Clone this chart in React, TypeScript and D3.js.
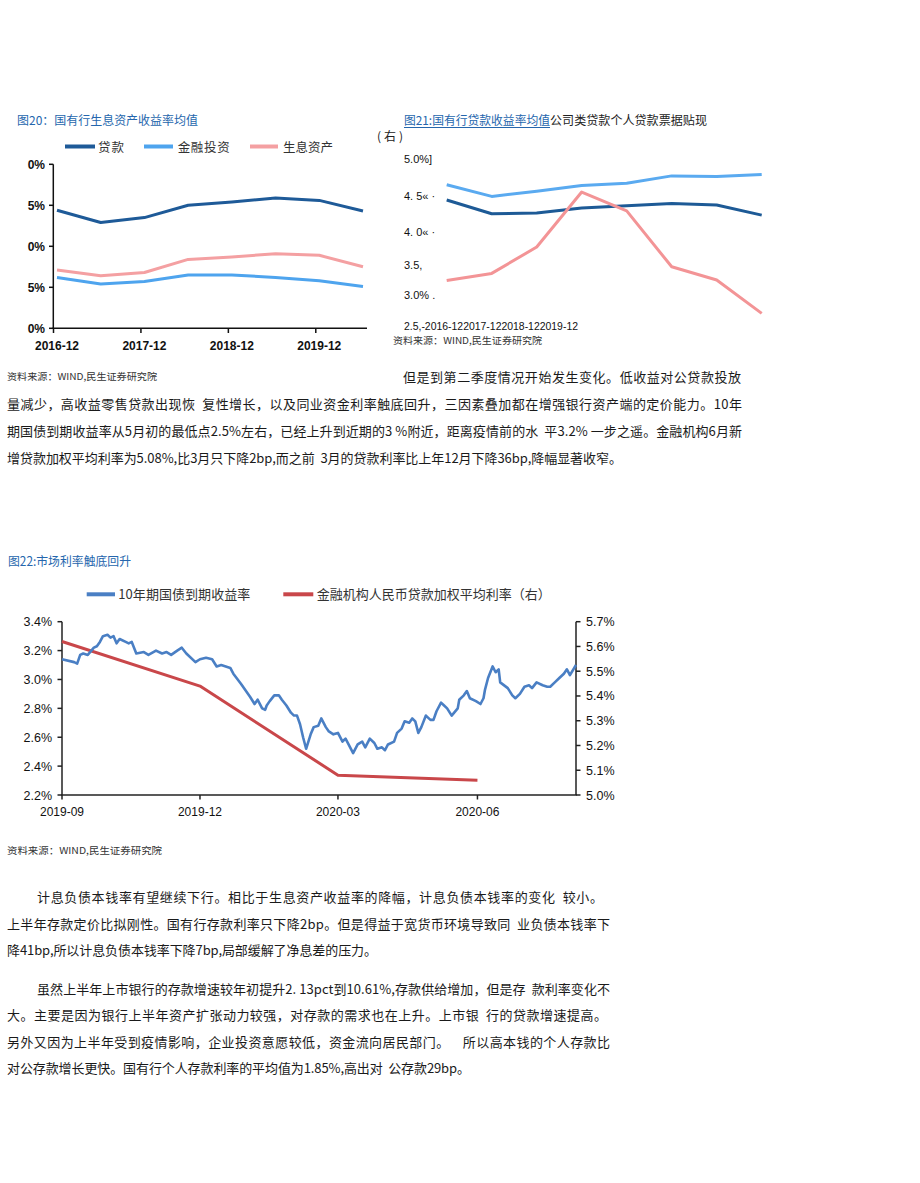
import React from "react";
import * as d3 from "d3";

// ---------- Chart 20 data ----------
const cats20 = ["2016-12", "2017-06", "2017-12", "2018-06", "2018-12", "2019-06", "2019-12", "2020-06"];
const loans20 = [4.44, 4.29, 4.35, 4.5, 4.54, 4.59, 4.56, 4.43];
const invest20 = [3.62, 3.54, 3.57, 3.65, 3.65, 3.62, 3.58, 3.51];
const assets20 = [3.71, 3.64, 3.68, 3.84, 3.87, 3.91, 3.89, 3.75];
const yTicks20 = [5.0, 4.5, 4.0, 3.5, 3.0];
const yTickLabels20 = ["0%", "5%", "0%", "5%", "0%"];
const xTickCats20 = ["2016-12", "2017-12", "2018-12", "2019-12"];
const legend20 = ["贷款", "金融投资", "生息资产"];

// ---------- Chart 21 data ----------
const cats21 = ["2016-12", "2017-06", "2017-12", "2018-06", "2018-12", "2019-06", "2019-12", "2020-06"];
const corp21 = [4.44, 4.25, 4.26, 4.33, 4.36, 4.39, 4.37, 4.23];
const personal21 = [4.65, 4.49, 4.56, 4.64, 4.67, 4.77, 4.76, 4.79];
const bill21 = [3.24, 3.36, 3.77, 4.55, 4.29, 3.47, 3.25, 2.7];
const yTicks21 = [5.0, 4.5, 4.0, 3.5, 3.0, 2.5];
const yTickLabels21 = ["5.0%]", "4. 5« ·", "4. 0« ·", "3.5,", "3.0% .", "2.5,-2016-122017-122018-122019-12"];

// ---------- Chart 22 data ----------
const bond10y: [string, number][] = [
  ["2019-09-01", 3.14], ["2019-09-09", 3.12], ["2019-09-11", 3.11], ["2019-09-13", 3.17], ["2019-09-15", 3.18],
  ["2019-09-18", 3.17], ["2019-09-22", 3.22], ["2019-09-24", 3.23], ["2019-09-26", 3.26], ["2019-09-28", 3.3],
  ["2019-10-01", 3.31], ["2019-10-03", 3.29], ["2019-10-05", 3.3], ["2019-10-07", 3.25], ["2019-10-09", 3.28],
  ["2019-10-13", 3.26], ["2019-10-15", 3.25], ["2019-10-17", 3.26], ["2019-10-20", 3.18], ["2019-10-25", 3.19],
  ["2019-10-28", 3.17], ["2019-11-02", 3.2], ["2019-11-06", 3.18], ["2019-11-09", 3.19], ["2019-11-12", 3.17],
  ["2019-11-16", 3.2], ["2019-11-19", 3.22], ["2019-11-22", 3.18], ["2019-11-28", 3.12], ["2019-12-01", 3.14],
  ["2019-12-05", 3.15], ["2019-12-09", 3.14], ["2019-12-12", 3.09], ["2019-12-15", 3.1], ["2019-12-21", 3.08],
  ["2019-12-23", 3.04], ["2019-12-28", 2.97], ["2020-01-03", 2.88], ["2020-01-06", 2.83], ["2020-01-08", 2.86],
  ["2020-01-11", 2.8], ["2020-01-13", 2.79], ["2020-01-14", 2.82], ["2020-01-16", 2.85], ["2020-01-19", 2.89],
  ["2020-01-22", 2.89], ["2020-01-24", 2.86], ["2020-01-27", 2.82], ["2020-01-30", 2.77], ["2020-02-01", 2.75],
  ["2020-02-03", 2.75], ["2020-02-05", 2.69], ["2020-02-07", 2.6], ["2020-02-09", 2.52], ["2020-02-12", 2.62],
  ["2020-02-14", 2.67], ["2020-02-17", 2.68], ["2020-02-19", 2.73], ["2020-02-22", 2.67], ["2020-02-24", 2.64],
  ["2020-02-27", 2.62], ["2020-03-01", 2.63], ["2020-03-04", 2.57], ["2020-03-06", 2.59], ["2020-03-08", 2.55],
  ["2020-03-11", 2.49], ["2020-03-14", 2.55], ["2020-03-17", 2.57], ["2020-03-19", 2.53], ["2020-03-22", 2.59],
  ["2020-03-25", 2.56], ["2020-03-27", 2.52], ["2020-03-30", 2.53], ["2020-04-01", 2.51], ["2020-04-03", 2.55],
  ["2020-04-07", 2.57], ["2020-04-09", 2.63], ["2020-04-12", 2.66], ["2020-04-14", 2.71], ["2020-04-17", 2.7],
  ["2020-04-19", 2.73], ["2020-04-21", 2.71], ["2020-04-23", 2.63], ["2020-04-25", 2.67], ["2020-04-28", 2.75],
  ["2020-05-01", 2.72], ["2020-05-03", 2.72], ["2020-05-05", 2.78], ["2020-05-08", 2.84], ["2020-05-10", 2.82],
  ["2020-05-12", 2.8], ["2020-05-15", 2.75], ["2020-05-19", 2.8], ["2020-05-20", 2.86], ["2020-05-23", 2.89],
  ["2020-05-25", 2.92], ["2020-05-27", 2.87], ["2020-05-31", 2.85], ["2020-06-03", 2.83], ["2020-06-05", 2.87],
  ["2020-06-06", 2.93], ["2020-06-08", 3.01], ["2020-06-11", 3.09], ["2020-06-13", 3.05], ["2020-06-15", 3.07],
  ["2020-06-16", 2.98], ["2020-06-21", 2.94], ["2020-06-24", 2.89], ["2020-06-26", 2.87], ["2020-06-29", 2.9],
  ["2020-07-02", 2.95], ["2020-07-05", 2.96], ["2020-07-07", 2.94], ["2020-07-10", 2.98], ["2020-07-14", 2.96],
  ["2020-07-17", 2.95], ["2020-07-19", 2.95], ["2020-07-22", 2.98], ["2020-07-25", 3.01], ["2020-07-28", 3.04],
  ["2020-07-30", 3.07], ["2020-08-01", 3.03], ["2020-08-05", 3.1],
];
const loanRate: [string, number][] = [
  ["2019-09-01", 5.62], ["2019-12-01", 5.44], ["2020-03-01", 5.08], ["2020-06-01", 5.06],
];
const yTicksL22 = [2.2, 2.4, 2.6, 2.8, 3.0, 3.2, 3.4];
const yTicksR22 = [5.0, 5.1, 5.2, 5.3, 5.4, 5.5, 5.6, 5.7];
const xTicks22 = ["2019-09-01", "2019-12-01", "2020-03-01", "2020-06-01"];
const legend22 = ["10年期国债到期收益率", "金融机构人民币贷款加权平均利率（右）"];

// ---------- Body text ----------
const source = "资料来源：WIND,民生证券研究院";
const bodyLines = [
  "但是到第二季度情况开始发生变化。低收益对公贷款投放",
  "量减少，高收益零售贷款出现恢  复性增长，以及同业资金利率触底回升，三因素叠加都在增强银行资产端的定价能力。10年",
  "期国债到期收益率从5月初的最低点2.5%左右，已经上升到近期的3 %附近，距离疫情前的水  平3.2% 一步之遥。金融机构6月新",
  "增贷款加权平均利率为5.08%,比3月只下降2bp,而之前  3月的贷款利率比上年12月下降36bp,降幅显著收窄。",
  "计息负债本钱率有望继续下行。相比于生息资产收益率的降幅，计息负债本钱率的变化  较小。",
  "上半年存款定价比拟刚性。国有行存款利率只下降2bp。但是得益于宽货币环境导致同  业负债本钱率下",
  "降41bp,所以计息负债本钱率下降7bp,局部缓解了净息差的压力。",
  "虽然上半年上市银行的存款增速较年初提升2. 13pct到10.61%,存款供给增加，但是存  款利率变化不",
  "大。主要是因为银行上半年资产扩张动力较强，对存款的需求也在上升。上市银  行的贷款增速提高。",
  "另外又因为上半年受到疫情影响，企业投资意愿较低，资金流向居民部门。    所以高本钱的个人存款比",
  "对公存款增长更快。国有行个人存款利率的平均值为1.85%,高出对  公存款29bp。",
];
// layout for body lines: [x, xEnd, baseline]
const bodyLayout: [number, number, number][] = [
  [403, 741, 382], [7, 742, 409], [7, 742, 436], [7, 622, 463],
  [37, 603, 902], [7, 610, 929], [7, 377, 955],
  [37, 610, 994], [7, 607, 1020], [7, 610, 1047], [7, 470, 1073],
];

const CJK = "'Noto Sans CJK SC', sans-serif";
const LAT = "'Liberation Sans', Arial, sans-serif";
const TITLE_BLUE = "#2566ad";

export default function App() {
  // chart 20
  const x20 = d3.scalePoint<string>().domain(cats20).range([57, 363]);
  const y20 = d3.scaleLinear().domain([3.0, 5.0]).range([328.3, 164.3]);
  const line20 = d3.line<number>().x((_, i) => x20(cats20[i])!).y((d) => y20(d));
  const series20 = [
    { v: loans20, c: "#1e5a98" },
    { v: invest20, c: "#4ea4ee" },
    { v: assets20, c: "#f4a0a2" },
  ];

  // chart 21
  const x21 = d3.scalePoint<string>().domain(cats21).range([446.7, 761.7]);
  const y21 = d3.scaleLinear().domain([2.5, 3.0, 3.5, 4.0, 4.5, 5.0]).range([325.7, 295, 265, 231.7, 195.7, 159]);
  const line21 = d3.line<number>().x((_, i) => x21(cats21[i])!).y((d) => y21(d));
  const series21 = [
    { v: personal21, c: "#5aaaf0" },
    { v: corp21, c: "#1d5a96" },
    { v: bill21, c: "#f39496" },
  ];

  // chart 22
  const parse = d3.utcParse("%Y-%m-%d");
  const x22 = d3.scaleUtc().domain([parse("2019-09-01")!, parse("2020-08-05")!]).range([62, 576]);
  const yL = d3.scaleLinear().domain([2.2, 3.4]).range([795, 621.7]);
  const yR = d3.scaleLinear().domain([5.0, 5.7]).range([795, 621.7]);
  const bondLine = d3.line<[string, number]>().x((d) => x22(parse(d[0])!)).y((d) => yL(d[1]));
  const loanLine = d3.line<[string, number]>().x((d) => x22(parse(d[0])!)).y((d) => yR(d[1]));
  const fmtM = d3.utcFormat("%Y-%m");

  return (
    <svg width={920} height={1183} style={{ position: "absolute", left: 0, top: 0, background: "#fff" }}>
      <rect x={0} y={0} width={920} height={1183} fill="#fff" />

      {/* ================= Chart 20 ================= */}
      <text x={17} y={125} fontFamily={CJK} fontSize={12} fill={TITLE_BLUE} textLength={181} lengthAdjust="spacingAndGlyphs">
        图20：国有行生息资产收益率均值
      </text>
      {[[65, 95, 98, 26], [144, 173, 177.7, 52], [250, 278, 283, 50]].map((p, i) => (
        <g key={i}>
          <line x1={p[0]} x2={p[1]} y1={146.5} y2={146.5} stroke={series20[i].c} strokeWidth={4} />
          <text x={p[2]} y={151.5} fontFamily={CJK} fontSize={12.5} fill="#333" textLength={p[3]} lengthAdjust="spacing">
            {legend20[i]}
          </text>
        </g>
      ))}
      <line x1={53.3} x2={53.3} y1={164.3} y2={329} stroke="#111" strokeWidth={1.5} />
      <line x1={52.5} x2={367} y1={328.3} y2={328.3} stroke="#111" strokeWidth={1.5} />
      {yTicks20.map((t, i) => (
        <g key={t}>
          <line x1={49} x2={53.3} y1={y20(t)} y2={y20(t)} stroke="#111" strokeWidth={1.5} />
          <text x={45} y={y20(t) + 4.5} textAnchor="end" fontFamily={LAT} fontWeight="bold" fontSize={12} fill="#111">
            {yTickLabels20[i]}
          </text>
        </g>
      ))}
      {xTickCats20.map((c) => (
        <g key={c}>
          <line x1={x20(c)! - 3.5} x2={x20(c)! - 3.5} y1={328.3} y2={333} stroke="#111" strokeWidth={1.5} />
          <text x={x20(c)!} y={350} textAnchor="middle" fontFamily={LAT} fontWeight="bold" fontSize={12} fill="#111">
            {c}
          </text>
        </g>
      ))}
      {series20.map((s, i) => (
        <path key={i} d={line20(s.v)!} fill="none" stroke={s.c} strokeWidth={3} strokeLinejoin="round" />
      ))}
      <text x={7} y={380} fontFamily={CJK} fontSize={9.5} fill="#333" textLength={150} lengthAdjust="spacingAndGlyphs">
        {source}
      </text>

      {/* ================= Chart 21 ================= */}
      <text x={404} y={125} fontFamily={CJK} fontSize={12} fill={TITLE_BLUE} textLength={146} lengthAdjust="spacingAndGlyphs">
        图21:国有行贷款收益率均值
      </text>
      <line x1={404} x2={550} y1={127.5} y2={127.5} stroke={TITLE_BLUE} strokeWidth={1} />
      <text x={550} y={125} fontFamily={CJK} fontSize={12} fill="#222" textLength={157} lengthAdjust="spacingAndGlyphs">
        公司类贷款个人贷款票据贴现
      </text>
      <text x={377} y={141} fontFamily={CJK} fontSize={12} fill="#222" textLength={26} lengthAdjust="spacing">
        (右)
      </text>
      {yTicks21.map((t, i) => (
        <text key={t} x={404} y={y21(t) + 4} fontFamily={LAT} fontSize={11} fill="#111"
          {...(i === yTicks21.length - 1 ? { textLength: 174, lengthAdjust: "spacingAndGlyphs" } : {})}
          style={{ whiteSpace: "pre" }}>
          {yTickLabels21[i]}
        </text>
      ))}
      {series21.map((s, i) => (
        <path key={i} d={line21(s.v)!} fill="none" stroke={s.c} strokeWidth={3} strokeLinejoin="round" />
      ))}
      <text x={393} y={344} fontFamily={CJK} fontSize={9.5} fill="#333" textLength={149} lengthAdjust="spacingAndGlyphs">
        {source}
      </text>

      {/* ================= Body text ================= */}
      {bodyLines.map((t, i) => (
        <text key={i} x={bodyLayout[i][0]} y={bodyLayout[i][2]} fontFamily={CJK} fontSize={13} fill="#1a1a1a"
          textLength={bodyLayout[i][1] - bodyLayout[i][0]} lengthAdjust="spacing" style={{ whiteSpace: "pre" }}>
          {t}
        </text>
      ))}

      {/* ================= Chart 22 ================= */}
      <text x={8} y={566} fontFamily={CJK} fontSize={12.5} fill={TITLE_BLUE} textLength={123} lengthAdjust="spacingAndGlyphs">
        图22:市场利率触底回升
      </text>
      <line x1={86.7} x2={115} y1={594.3} y2={594.3} stroke="#4a7fc4" strokeWidth={4} />
      <text x={118.3} y={599} fontFamily={CJK} fontSize={13} fill="#333" textLength={132} lengthAdjust="spacing">
        {legend22[0]}
      </text>
      <line x1={283.3} x2={313.3} y1={594.3} y2={594.3} stroke="#c9474a" strokeWidth={4} />
      <text x={316.7} y={599} fontFamily={CJK} fontSize={13} fill="#333" textLength={234} lengthAdjust="spacing">
        {legend22[1]}
      </text>
      <line x1={62} x2={62} y1={621.7} y2={795} stroke="#222" strokeWidth={1.5} />
      <line x1={576} x2={576} y1={621.7} y2={795} stroke="#222" strokeWidth={1.5} />
      <line x1={61.3} x2={576.7} y1={795} y2={795} stroke="#222" strokeWidth={1.5} />
      {yTicksL22.map((t) => (
        <g key={t}>
          <line x1={57.5} x2={62} y1={yL(t)} y2={yL(t)} stroke="#222" strokeWidth={1.5} />
          <text x={52} y={yL(t) + 4.5} textAnchor="end" fontFamily={LAT} fontSize={12.5} fill="#111">
            {d3.format(".1f")(t)}%
          </text>
        </g>
      ))}
      {yTicksR22.map((t) => (
        <g key={t}>
          <line x1={576} x2={580.5} y1={yR(t)} y2={yR(t)} stroke="#222" strokeWidth={1.5} />
          <text x={586} y={yR(t) + 4.5} fontFamily={LAT} fontSize={12.5} fill="#111">
            {d3.format(".1f")(t)}%
          </text>
        </g>
      ))}
      {xTicks22.map((t) => {
        const xx = x22(parse(t)!);
        return (
          <g key={t}>
            <line x1={xx} x2={xx} y1={795} y2={799.5} stroke="#222" strokeWidth={1.5} />
            <text x={xx} y={816} textAnchor="middle" fontFamily={LAT} fontSize={12} fill="#111">
              {fmtM(parse(t)!)}
            </text>
          </g>
        );
      })}
      <path d={loanLine(loanRate)!} fill="none" stroke="#c9474a" strokeWidth={3} strokeLinejoin="round" />
      <path d={bondLine(bond10y)!} fill="none" stroke="#4a7fc4" strokeWidth={2.6} strokeLinejoin="round" />
      <text x={7} y={854} fontFamily={CJK} fontSize={9.5} fill="#333" textLength={155} lengthAdjust="spacingAndGlyphs">
        {source}
      </text>
    </svg>
  );
}
